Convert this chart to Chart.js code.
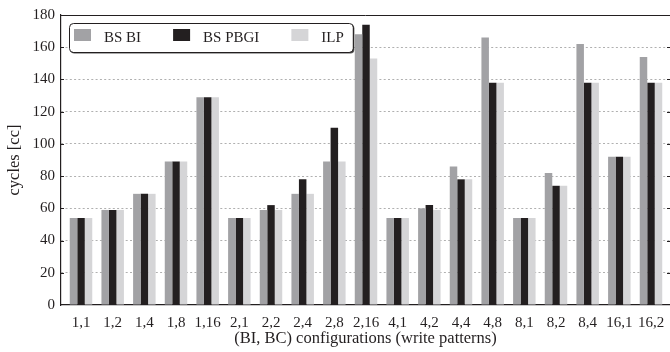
<!DOCTYPE html>
<html>
<head>
<meta charset="utf-8">
<script src="https://cdn.jsdelivr.net/npm/chart.js@4"></script>
<style>
  html, body { margin: 0; padding: 0; background: #fff; }
  #wrap { width: 670px; height: 352px; }
</style>
</head>
<body>
<div id="wrap"><canvas id="chart"></canvas></div>
<script>
"use strict";

// (BI, BC) configurations
const CONFIGS = ["1,1", "1,2", "1,4", "1,8", "1,16", "2,1", "2,2", "2,4", "2,8", "2,16",
                 "4,1", "4,2", "4,4", "4,8", "8,1", "8,2", "8,4", "16,1", "16,2"];
const BS_BI   = [54, 59, 69, 89, 129, 54, 59, 69, 89, 168, 54, 60, 86, 166, 54, 82, 162, 92, 154];
const BS_PBGI = [54, 59, 69, 89, 129, 54, 62, 78, 110, 174, 54, 62, 78, 138, 54, 74, 138, 92, 138];
const ILP     = [54, 59, 69, 89, 129, 54, 59, 69, 89, 153, 54, 59, 78, 138, 54, 74, 138, 92, 138];
const Y_TICKS = [0, 20, 40, 60, 80, 100, 120, 140, 160, 180];

const FONT = "'Liberation Serif', 'Times New Roman', serif";
const INK = "#231f20";

const pts = (arr) => arr.map((v, i) => ({ x: i, y: v }));

// Top frame line + small inward ticks on the left/right edges.
const frame = {
  id: "frame",
  afterDraw(chart) {
    const { ctx, chartArea: { top, left, right } } = chart;
    const y = chart.scales.y;
    ctx.save();
    ctx.strokeStyle = INK; ctx.lineWidth = 1;
    ctx.beginPath();
    ctx.moveTo(left, top + 0.5); ctx.lineTo(right, top + 0.5);
    Y_TICKS.slice(1, -1).forEach((v) => {
      const py = Math.round(y.getPixelForValue(v)) + 0.5;
      ctx.moveTo(right - 3, py); ctx.lineTo(right, py);
      ctx.moveTo(left, py); ctx.lineTo(left + 3, py);
    });
    ctx.stroke();
    ctx.restore();
  },
};

// pgfplots-style legend: rounded box with a drop shadow, inside the plot.
const boxedLegend = {
  id: "boxedLegend",
  afterDraw(chart) {
    const { ctx, chartArea } = chart;
    const x0 = chartArea.left + 8, y0 = chartArea.top + 8, h = 29;
    const sw = 17, sh = 12, gap = 13, colGap = 32;
    ctx.save();
    ctx.font = `15px ${FONT}`;
    const items = chart.data.datasets.map((d) => ({ label: d.label, color: d.backgroundColor,
                                                     w: ctx.measureText(d.label).width }));
    let x = x0 + 5;
    items.forEach((it) => { it.x = x; x += sw + gap + it.w + colGap; });
    const w = x - colGap + 9 - x0;
    const rr = (dx, dy) => { ctx.beginPath(); ctx.roundRect(x0 + dx, y0 + dy, w, h, 4); };
    ctx.fillStyle = "#555"; rr(1.5, 1.5); ctx.fill();
    ctx.fillStyle = "#fff"; rr(0, 0); ctx.fill();
    ctx.strokeStyle = INK; ctx.lineWidth = 1; rr(0.5, 0.5); ctx.stroke();
    ctx.textBaseline = "middle";
    items.forEach((it) => {
      ctx.fillStyle = it.color;
      ctx.fillRect(it.x, y0 + 6, sw, sh);
      ctx.fillStyle = INK;
      ctx.fillText(it.label, it.x + sw + gap, y0 + h / 2 + 1);
    });
    ctx.restore();
  },
};

Chart.defaults.font.family = FONT;
Chart.defaults.font.size = 15;
Chart.defaults.color = INK;

new Chart(document.getElementById("chart"), {
  type: "bar",
  data: {
    datasets: [
      { label: "BS BI",   data: pts(BS_BI),   backgroundColor: "#a2a2a5" },
      { label: "BS PBGI", data: pts(BS_PBGI), backgroundColor: INK },
      { label: "ILP",     data: pts(ILP),     backgroundColor: "#d5d5d7" },
    ],
  },
  plugins: [frame, boxedLegend],
  options: {
    responsive: true, maintainAspectRatio: false, animation: false,
    layout: { padding: { top: 11, right: 0, bottom: 0, left: 0 } },
    datasets: { bar: { categoryPercentage: 0.71, barPercentage: 1.0 } },
    scales: {
      x: {
        type: "linear", offset: false,
        min: -0.632, max: 18.6,
        afterBuildTicks: (s) => { s.ticks = CONFIGS.map((_, i) => ({ value: i })); },
        afterFit: (s) => { s.height = 47; },
        ticks: { callback: (v) => CONFIGS[v], padding: 1, maxRotation: 0, autoSkip: false, color: INK },
        grid: { display: false, offset: false },
        border: { color: INK, width: 1.2 },
        title: { display: true, text: "(BI, BC) configurations (write patterns)",
                 font: { size: 16.5 }, padding: { top: 0, bottom: 3 }, color: INK },
      },
      y: {
        min: 0, max: 180,
        afterBuildTicks: (s) => { s.ticks = Y_TICKS.map((v) => ({ value: v })); },
        afterFit: (s) => { s.width = 61; },
        ticks: { padding: 6, color: INK },
        grid: {
          drawTicks: false, lineWidth: 1,
          color: (c) => (c.tick && (c.tick.value === 0 || c.tick.value === 180) ? "rgba(0,0,0,0)" : "#b0b0b0"),
        },
        border: { color: INK, width: 1.2, dash: [2, 2.3] },
        title: { display: true, text: "cycles [cc]", font: { size: 16.5 }, padding: { top: 5, bottom: 0 }, color: INK },
      },
    },
    plugins: { legend: { display: false }, tooltip: { enabled: false } },
  },
});
</script>
</body>
</html>
